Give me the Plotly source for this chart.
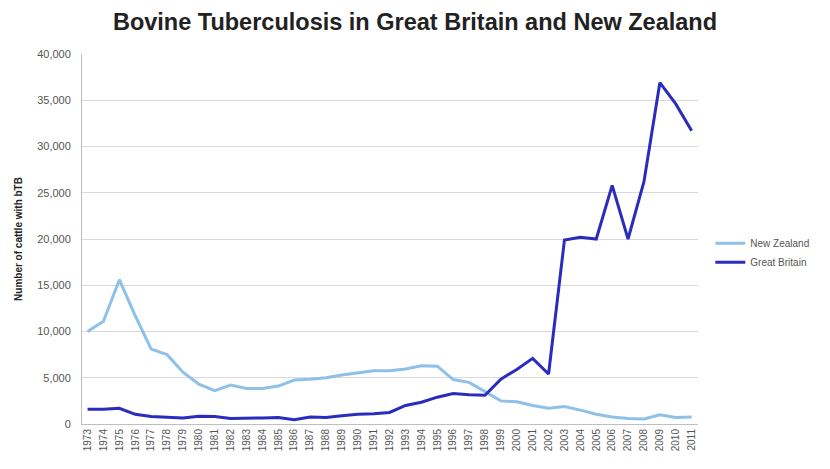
import plotly.graph_objects as go

years = list(range(1973, 2012))

new_zealand = [10000, 11100, 15600, 11700, 8100, 7500, 5600, 4300, 3600, 4200,
               3850, 3850, 4100, 4750, 4850, 5000, 5300, 5500, 5750, 5750,
               5950, 6300, 6250, 4800, 4500, 3500, 2500, 2400, 2000, 1700,
               1900, 1500, 1050, 750, 600, 550, 1000, 700, 750]

great_britain = [1600, 1600, 1700, 1050, 800, 700, 650, 850, 800, 600,
                 600, 650, 700, 450, 750, 700, 900, 1050, 1100, 1250,
                 2000, 2350, 2900, 3300, 3150, 3100, 4850, 5900, 7100, 5400,
                 19900, 20200, 20000, 25800, 20000, 26200, 36900, 34600, 31700]

y_ticks = list(range(0, 40001, 5000))

fig = go.Figure()
fig.add_trace(go.Scatter(
    x=years, y=new_zealand, name="New Zealand", mode="lines",
    line=dict(color="#8ec1ea", width=3),
))
fig.add_trace(go.Scatter(
    x=years, y=great_britain, name="Great Britain", mode="lines",
    line=dict(color="#2b2bbd", width=3),
))

fig.update_layout(
    width=830, height=469,
    paper_bgcolor="white", plot_bgcolor="white",
    margin=dict(l=82, r=132, t=54, b=45),
    font=dict(family="Liberation Sans, Arial, sans-serif", color="#555555"),
    title=dict(
        text="<b>Bovine Tuberculosis in Great Britain and New Zealand</b>",
        x=0.5, xanchor="center", y=0.953, yanchor="middle",
        font=dict(size=23.5, color="#222222"),
    ),
    legend=dict(
        x=1.02, y=0.463, xanchor="left", yanchor="middle",
        font=dict(size=10, color="#555555"),
        bgcolor="rgba(0,0,0,0)", tracegroupgap=2, itemwidth=30,
    ),
    showlegend=True,
)

fig.update_xaxes(
    range=[1972.65, 2011.4],
    tickmode="array", tickvals=years, ticktext=[str(y) for y in years],
    tickangle=-90, tickfont=dict(size=10, color="#555555"),
    showgrid=False, showline=True, linecolor="#bfbfbf", linewidth=1,
    ticks="", zeroline=False, fixedrange=True,
)
fig.update_yaxes(
    range=[0, 40000],
    tickmode="array", tickvals=y_ticks,
    ticktext=[f"{v:,}" for v in y_ticks],
    tickfont=dict(size=11, color="#555555"),
    ticklabelstandoff=8,
    showgrid=True, gridcolor="#d9d9d9", gridwidth=1,
    showline=True, linecolor="#bfbfbf", linewidth=1,
    zeroline=False, ticks="",
    title=dict(text="<b>Number of cattle with bTB</b>",
               font=dict(size=10, color="#222222"), standoff=12),
)

fig.write_html("out.html")
